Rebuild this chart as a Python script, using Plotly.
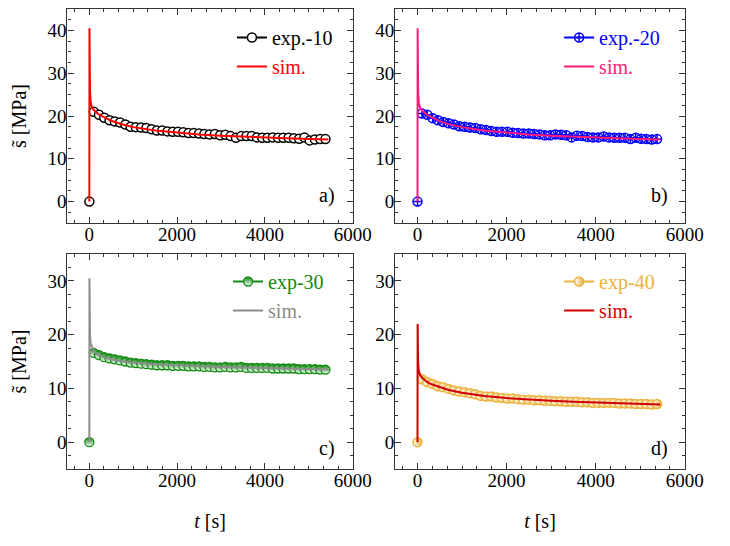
import plotly.graph_objects as go

# ---------------- data ----------------
t_exp = [0, 100, 220, 340, 460, 580, 700, 820, 940, 1060, 1180, 1300, 1420, 1540, 1660,
         1780, 1900, 2020, 2140, 2260, 2380, 2500, 2620, 2740, 2860, 2980, 3100, 3220,
         3340, 3460, 3580, 3700, 3820, 3940, 4060, 4180, 4300, 4420, 4540, 4660, 4780,
         4900, 5020, 5140, 5260, 5380]

exp10 = [0, 21.0, 20.3, 19.6, 19.0, 18.7, 18.5, 18.0, 17.5, 17.4, 17.3, 17.2, 16.9, 16.6, 16.6,
         16.4, 16.3, 16.3, 16.2, 16.0, 16.0, 15.9, 15.8, 15.7, 15.8, 15.5, 15.6, 15.3,
         14.9, 15.3, 15.3, 15.3, 15.0, 14.9, 14.9, 15.0, 14.9, 14.9, 14.9, 14.8, 14.7,
         15.0, 14.3, 14.5, 14.6, 14.6]
exp20 = [0, 20.6, 20.3, 19.5, 19.0, 18.6, 18.3, 18.0, 17.6, 17.5, 17.3, 17.2, 16.9, 16.7, 16.5,
         16.3, 16.3, 16.3, 16.1, 16.0, 15.9, 15.9, 15.8, 15.7, 15.5, 15.5, 15.7, 15.6,
         15.5, 15.0, 15.4, 15.3, 15.1, 15.0, 15.0, 15.2, 15.0, 14.9, 14.9, 14.9, 14.6,
         14.9, 14.7, 14.6, 14.5, 14.6]
exp30 = [0, 16.6, 16.2, 15.8, 15.6, 15.4, 15.2, 15.0, 14.8, 14.7, 14.6, 14.5, 14.4, 14.3, 14.3,
         14.3, 14.2, 14.2, 14.2, 14.1, 14.1, 14.1, 14.0, 14.0, 13.9, 13.9, 14.0, 13.9,
         13.9, 14.0, 13.8, 13.8, 13.8, 13.8, 13.8, 13.7, 13.7, 13.7, 13.7, 13.7, 13.6,
         13.6, 13.6, 13.6, 13.5, 13.5]
exp40 = [0, 11.7, 11.2, 10.8, 10.4, 10.2, 9.9, 9.6, 9.4, 9.3, 9.1, 8.9, 8.6, 8.5, 8.5,
         8.3, 8.2, 8.1, 8.1, 8.0, 7.9, 7.9, 7.8, 7.8, 7.7, 7.7, 7.6, 7.6,
         7.5, 7.5, 7.5, 7.4, 7.4, 7.3, 7.3, 7.3, 7.3, 7.3, 7.2, 7.2, 7.2,
         7.1, 7.1, 7.1, 7.0, 7.1]

t_sim = [0, 3, 8, 15, 30, 60, 100, 150, 200, 300, 400, 500, 700, 1000, 1500, 2000,
         2500, 3000, 3500, 4000, 4500, 5000, 5450]
sim10 = [0, 40.5, 32.0, 26.0, 23.2, 22.0, 21.4, 20.9, 20.5, 19.9, 19.3, 18.9, 18.2, 17.4,
         16.6, 16.1, 15.7, 15.4, 15.15, 14.95, 14.8, 14.65, 14.5]
sim20 = [0, 40.5, 31.0, 25.5, 23.0, 21.9, 21.3, 20.8, 20.4, 19.8, 19.2, 18.8, 18.1, 17.4,
         16.6, 16.1, 15.7, 15.4, 15.15, 14.95, 14.8, 14.65, 14.5]
sim30 = [0, 30.5, 24.0, 20.0, 18.3, 17.6, 17.0, 16.6, 16.3, 15.9, 15.6, 15.4, 15.1, 14.8,
         14.5, 14.3, 14.15, 14.0, 13.9, 13.8, 13.7, 13.6, 13.5]
sim40 = [0, 22.0, 17.0, 14.5, 13.2, 12.5, 12.0, 11.6, 11.3, 10.8, 10.5, 10.2, 9.7, 9.2,
         8.6, 8.2, 7.9, 7.7, 7.5, 7.35, 7.2, 7.1, 7.0]

panel_labels = ["a)", "b)", "c)", "d)"]
x_ticks = [0, 2000, 4000, 6000]

FONT = "Liberation Serif, Times New Roman, serif"

fig = go.Figure()

def exp_traces(y, name, color, xa, ya, legend, marker):
    # the t = 0 point is drawn on its own, not joined to the rest of the series
    first = go.Scatter(x=t_exp[:1], y=y[:1], mode="markers", showlegend=False,
                       xaxis=xa, yaxis=ya, legend=legend, marker=marker)
    rest = go.Scatter(x=t_exp[1:], y=y[1:], mode="lines+markers", name=name,
                      xaxis=xa, yaxis=ya, legend=legend,
                      line=dict(color=color, width=2), marker=marker)
    return [first, rest]

def sim_trace(y, name, color, xa, ya, legend):
    return go.Scatter(x=t_sim, y=y, mode="lines", name=name,
                      xaxis=xa, yaxis=ya, legend=legend,
                      line=dict(color=color, width=2))

def lbl(text, color):
    return f"<span style='color:{color}'>{text}</span>"

# panel a
fig.add_traces(exp_traces(exp10, lbl("exp.-10", "#000000"), "#000000", "x", "y", "legend",
                          dict(symbol="circle", size=9, color="white",
                               line=dict(color="black", width=1.5))))
fig.add_trace(sim_trace(sim10, lbl("sim.", "#FF0000"), "#FF0000", "x", "y", "legend"))
# panel b
fig.add_traces(exp_traces(exp20, lbl("exp.-20", "#0000FF"), "#0000FF", "x2", "y2", "legend2",
                          dict(symbol="circle-cross-open", size=9, color="#0000FF",
                               line=dict(color="#0000FF", width=1.5))))
fig.add_trace(sim_trace(sim20, lbl("sim.", "#FF1A7A"), "#FF1A7A", "x2", "y2", "legend2"))
# panel c
fig.add_traces(exp_traces(exp30, lbl("exp-30", "#108A10"), "#108A10", "x3", "y3", "legend3",
                          dict(symbol="circle", size=9, color="#108A10",
                               gradient=dict(type="vertical", color="white"),
                               line=dict(color="#108A10", width=1.3))))
fig.add_trace(sim_trace(sim30, lbl("sim.", "#8C8C8C"), "#8C8C8C", "x3", "y3", "legend3"))
# panel d
fig.add_traces(exp_traces(exp40, lbl("exp-40", "#EBB23C"), "#EBB23C", "x4", "y4", "legend4",
                          dict(symbol="circle", size=9, color="white",
                               gradient=dict(type="horizontal", color="#EBB23C"),
                               line=dict(color="#EBB23C", width=1.5))))
fig.add_trace(sim_trace(sim40, lbl("sim.", "#D00000"), "#D00000", "x4", "y4", "legend4"))

OFF = 8  # default page body margin
W, H = 730 - OFF, 546 - OFF
def px_x(p): return (p - OFF) / W
def px_y(p): return 1 - (p - OFF) / H

dom_x_left = [px_x(69), px_x(362)]
dom_x_right = [px_x(405.7), px_x(703)]
dom_y_top = [px_y(223), px_y(9)]
dom_y_bot = [px_y(469), px_y(254)]

AX = "#333333"

def xax(domain, anchor, title=None):
    d = dict(domain=domain, anchor=anchor, range=[-500, 6000], tickvals=x_ticks,
             showline=True, mirror="allticks", linecolor=AX, linewidth=1.3,
             ticks="inside", ticklen=6, tickwidth=1.2, tickcolor=AX,
             minor=dict(dtick=2000 / 6, tick0=0, ticks="inside", ticklen=3,
                        tickcolor=AX, tickwidth=1),
             showgrid=False, zeroline=False, ticklabelstandoff=-6,
             tickfont=dict(family=FONT, size=19, color="black"))
    if title:
        d["title"] = dict(text=title, font=dict(family=FONT, size=20, color="black"),
                          standoff=24)
    return d

def yax(domain, anchor, rng, title=None):
    d = dict(domain=domain, anchor=anchor, range=rng, dtick=10, tick0=0,
             showline=True, mirror="allticks", linecolor=AX, linewidth=1.3,
             ticks="inside", ticklen=6, tickwidth=1.2, tickcolor=AX,
             minor=dict(dtick=2.5, tick0=0, ticks="inside", ticklen=3,
                        tickcolor=AX, tickwidth=1),
             showgrid=False, zeroline=False, ticklabelstandoff=-4,
             tickfont=dict(family=FONT, size=19, color="black"))
    if title:
        d["title"] = dict(text=title, font=dict(family=FONT, size=20, color="black"),
                          standoff=16)
    return d

ytitle = "s\u0303 [MPa]"
xtitle = "<i>t</i> [s]"

def leg(x, y):
    return dict(x=x, y=y, xanchor="left", yanchor="top", bgcolor="rgba(0,0,0,0)",
                font=dict(family=FONT, size=20), itemwidth=30, tracegroupgap=0)

fig.update_layout(
    width=W, height=H, margin=dict(l=0, r=0, t=0, b=0),
    paper_bgcolor="white", plot_bgcolor="white",
    showlegend=True,
    xaxis=xax(dom_x_left, "y"),
    yaxis=yax(dom_y_top, "x", [-5, 45], ytitle),
    xaxis2=xax(dom_x_right, "y2"),
    yaxis2=yax(dom_y_top, "x2", [-5, 45]),
    xaxis3=xax(dom_x_left, "y3", xtitle),
    yaxis3=yax(dom_y_bot, "x3", [-5, 35], ytitle),
    xaxis4=xax(dom_x_right, "y4", xtitle),
    yaxis4=yax(dom_y_bot, "x4", [-5, 35]),
    legend=leg(px_x(238), px_y(18)),
    legend2=leg(px_x(574), px_y(18)),
    legend3=leg(px_x(234), px_y(262)),
    legend4=leg(px_x(574), px_y(262)),
)

label_pos = [(346, 195), (688, 195), (346, 448), (688, 448)]
for text, (lx, ly) in zip(panel_labels, label_pos):
    fig.add_annotation(x=px_x(lx), y=px_y(ly), xref="paper", yref="paper",
                       text=text, showarrow=False, xanchor="right", yanchor="middle",
                       font=dict(family=FONT, size=20, color="black"))

fig.write_html("out.html")
